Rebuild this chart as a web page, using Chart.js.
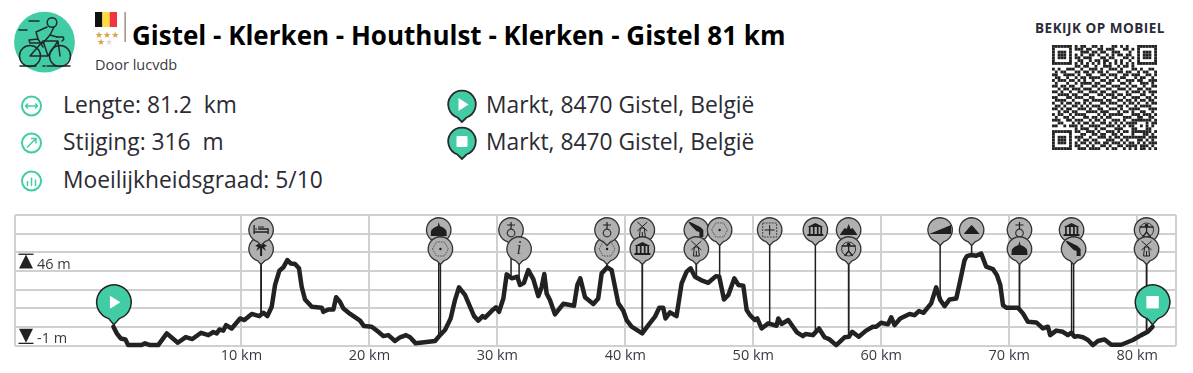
<!DOCTYPE html>
<html><head><meta charset="utf-8">
<script src="https://cdn.jsdelivr.net/npm/chart.js@4/dist/chart.umd.min.js"></script>
<style>
html,body{margin:0;padding:0;background:#fff;width:1193px;height:373px;overflow:hidden;font-family:"Open Sans",sans-serif;color:#2b2b33}
.a{position:absolute;white-space:pre;line-height:1}
canvas{position:absolute;left:0;top:0}
</style></head><body>
<svg class="a" style="left:0;top:0" width="1193" height="215" viewBox="0 0 1193 215">
 <circle cx="44.5" cy="42.2" r="30.4" fill="#41cca6"/>
 <g fill="none" stroke="#22292a" stroke-width="1.5" stroke-linecap="round" stroke-linejoin="round">
  <circle cx="30" cy="56" r="10.5"/><circle cx="60" cy="56" r="10.5"/>
  <path d="M30 56L43 41L58 41L60 56M43 41L48 56L30 56M48 56L58 41M57 37L63 37Q65 39 62 41"/>
  <circle cx="52" cy="22.5" r="4.8"/>
  <path d="M47 27L36 32L38 39L29 40L30 43L43 43L50 35L54 27M38 39L43 47M50 35L57 37"/>
  <path d="M29 21L39 21M19 30L27 30M20 66L36 66M43 66L45 66M47 66L70 66"/>
 </g>
 <rect x="95" y="12" width="7.4" height="15" fill="#111"/><rect x="102.4" y="12" width="7.3" height="15" fill="#fbdc3c"/><rect x="109.7" y="12" width="7.3" height="15" fill="#f5333f"/>
 <g font-size="9" font-family="DejaVu Sans"><text x="95" y="38" fill="#d9a441">★★★</text><text x="97" y="45" fill="#d9a441">★<tspan fill="#ddd">★</tspan></text></g>
 <rect x="124.6" y="12" width="1" height="30" fill="#6b5b3c"/>
 <g fill="none" stroke="#41cca6" stroke-width="2"><circle cx="31.5" cy="106" r="9.5"/><circle cx="31.5" cy="143" r="9.5"/><circle cx="31.5" cy="181" r="9.5"/>
  <path stroke-width="1.5" d="M25.5 106H37.5M28 103.5L25.5 106L28 108.500M35 103.500L37.500 106L35 108.500M27 147.500L36 138.500M31 138.500H36V143.500M27.500 186V181M31.500 186V177.500M35.500 186V179.500"/></g>
 <g stroke="#2a2a2a" stroke-width="1.8" fill="#41cca6">
  <path d="M462 122L457.500 117.500A13.800 13.800 0 1 1 466.500 117.500Z"/><path d="M462 159L457.500 154.500A13.800 13.800 0 1 1 466.500 154.500Z"/></g>
 <path fill="#fff" d="M458.500 98L468.500 104.500L458.500 111Z"/><rect x="456.500" y="136" width="11" height="11" rx="1" fill="#fff"/>
</svg>
<div class="a" style="left:132px;top:22px;font-size:26px;font-weight:700;color:#000" id="title">Gistel - Klerken - Houthulst - Klerken - Gistel 81 km</div>
<div class="a" style="left:95px;top:58px;font-size:14.5px;color:#3a3a44">Door lucvdb</div>
<div class="a" style="left:63px;top:94px;font-size:22.8px">Lengte: 81.2  km</div>
<div class="a" style="left:63px;top:131px;font-size:22.8px">Stijging: 316  m</div>
<div class="a" style="left:63px;top:169px;font-size:22.8px">Moeilijkheidsgraad: 5/10</div>
<div class="a" style="left:486px;top:94px;font-size:22.8px">Markt, 8470 Gistel, België</div>
<div class="a" style="left:486px;top:131px;font-size:22.8px">Markt, 8470 Gistel, België</div>
<div class="a" style="left:1035px;top:22px;font-size:13.5px;font-weight:700;letter-spacing:.5px;color:#2b2b3a">BEKIJK OP MOBIEL</div>
<canvas id="qr" width="105" height="105" style="left:1052px;top:45px"></canvas>
<canvas id="c" width="1193" height="373"></canvas>
<script>
const distancesKm = [0,.26,.57,.94,1.15,2.2,2.47,2.86,3.5,4.17,5.03,5.65,6.17,6.85,7.42,7.81,8.07,8.28,8.59,8.8,9.24,9.9,10.23,10.81,11.4,11.72,12.03,12.37,12.63,12.97,13.28,13.59,13.85,14.19,14.5,14.71,14.97,15.5,16.28,16.4,16.8,17.19,17.4,17.7,17.97,18.5,19.27,19.58,20.18,20.7,21.09,21.48,22,
22.4,22.86,23.18,23.62,25.13,25.52,25.91,26.35,26.69,27,27.47,28.18,28.51,28.85,29.04,29.68,29.89,30.13,30.47,30.73,31.12,31.56,31.77,32.08,32.42,32.81,33.2,33.46,33.67,33.85,34.11,34.5,35.15,35.99,36.25,36.48,36.85,37.5,37.88,38.15,38.59,38.93,39.45,39.84,40.1,40.49,41.32,41.8,42.32,42.65,42.96,43.14,43.49,44,44.4,44.79,45.1,45.44,45.91,46.48,47.08,47.34,47.71,48.05,48.52,48.83,49.22,49.48,49.74,50.13,50.31,50.65,51.17,51.82,51.95,52.21,52.73,53.1,
53.41,53.88,54.09,54.66,55.13,55.57,55.96,56.48,57.13,57.47,57.73,58.24,58.81,59.34,59.6,59.99,60.52,60.78,61.04,61.48,62.21,62.6,62.94,63.3,63.9,64.29,64.61,64.95,65.34,65.86,66.12,66.51,66.69,67.03,67.42,67.81,68.2,68.72,69.04,69.3,69.51,69.77,70.68,71.07,71.46,72.11,72.63,73.02,73.2,73.67,74.19,74.58,74.84,75.1,75.36,75.76,76.15,76.54,76.93,77.45,77.97,78.75,79.66,80.31,80.83,81.2];
const elevationsM = [8.7,5.3,2.7,2.2,-.7,-.7,.2,-.7,-.7,5.3,.5,3.4,2.4,5.6,4.4,6,5.3,7.3,6.7,9.5,7.8,12.9,12.1,15.2,14.1,15.8,14.1,18.9,30,37.3,39,42.7,41,40.7,38.5,29.1,22.6,18.9,18.4,16.3,17.5,17.5,23.7,21.4,18,15.2,11.8,9,8.7,6.1,3.9,4.4,1.4,
3.3,4.4,3.3,.2,1.4,4.4,7,12.9,22.3,28.8,24.9,14.1,11.8,14.1,13.3,17.5,18.6,16.3,23.1,35.4,33.4,34.2,30,31.1,37.6,33,24.3,28.8,35.6,25.7,22.3,15,20.4,19.4,30,33.4,23.7,20.3,23.1,35.9,39,37.6,20.6,16.9,12.1,8.7,5.3,9.5,13.8,18.4,18.4,12.9,16,14.1,30.8,36.8,38.5,34.2,32.5,31.1,34.5,34.2,22.6,24.9,33.4,30,29.6,17.2,14.6,12.1,12.9,7.8,10.4,9.2,12.9,10.1,12.1,8.7,
5.8,3.9,5,4.4,7.8,3.3,2.2,-.7,3.3,3.6,6.1,3.6,6.7,8.7,8.7,10.7,9.9,13.5,9.5,12.9,15.2,14.6,16.7,15.8,20.6,28.8,22.3,19.2,22.6,23.1,30.8,42.7,44.7,45.3,44.9,46,39.3,38.1,35,30,19.7,18.4,18.4,15.5,11.2,10.9,7.8,8.7,4.4,6.7,6.1,4.4,5.6,3.6,3.9,3.3,1.9,-.7,1.4,2.2,-.5,-.5,1.9,4.4,6.1,8.7];
const xTickKm = [10,20,30,40,50,60,70,80];
const yGridM = [-1,8.53,18.06,27.59,37.12,46.65,56.18,65.71];
const xBounds = [-7.73,83.03];
const minElevation = -1, maxElevation = 46;
const poiKm   = [11.54,11.54,25.42,25.55,31.07,31.7,38.57,38.57,41.33,41.33,45.55,45.55,47.37,51.28,54.85,57.45,57.45,64.6,67.06,70.8,70.8,74.87,75.03,80.73,80.73];
const poiTier = [1,0,0,1,0,1,1,0,0,1,0,1,0,0,0,0,1,0,0,0,1,0,1,0,1];
const poiIcon = ['palm','bed','dome','hex','ring','info','hex','ring','mill','museum','gun','mill','hex','grid','museum','mountain','man','ramp','hill','ring','dome','museum','gun','man','mill'];
const qrRows = [
"1111111010110011010001101010001111111",
"1000001011101100110111000110101000001",
"1011101000111011011001110001001011101",
"1011101010100110100101011011001011101",
"1011101011011100011011000110101011101",
"1000001001100101101100101001001000001",
"1111111010101010101010101010101111111",
"0000000011011001001110010110100000000",
"1010011100100111010011101000110100110",
"0101100011011010110100011011001011001",
"1100111101001100011011100110111001101",
"0110010010110111100100101100010110010",
"1011101101010010011011010011101100111",
"0100010010111101100110001101000111010",
"1101101100100011011001110010110010011",
"0010110111011100100110011101001101100",
"1101001001100111011001100010111010111",
"0011110110011000110111011011000110010",
"1100011011100110001001100100111001101",
"0111100100011011110110011011010110110",
"1001011011010100011011100101101001011",
"0110100110101011100100011010010111100",
"1101011001110100110011101001111000111",
"0010110110001111011100010110100110010",
"1011001011110000101011111000111011101",
"0100110100011011010110000111001100110",
"1110011011100101101001110100111111101",
"0011000101011010011010101011110001011",
"1100101110100111100111010101100101010",
"0000000010111001011000111000110001100",
"1111111011001110100111010110111111101",
"1000001000110011011001101000100011010",
"1011101011100100111010110111111110111",
"1011101001011011000111001010001101010",
"1011101010110101101101110101101010111",
"1000001011001010011010011011110111010",
"1111111001110111100101100101010110101"];

// QR ornament
(function(){const g=document.getElementById('qr').getContext('2d');const s=105/37;g.fillStyle='#222';
 qrRows.forEach((r,y)=>[...r].forEach((v,x)=>{if(v==='1')g.fillRect(x*s,y*s,s,s);}));})();

const INK='#1f1f1f', PIN='#b0b0b0', GREEN='#41cca6';
function L(g,d,w){g.lineWidth=w||1;g.strokeStyle=INK;g.beginPath();d.forEach(p=>{g.moveTo(p[0],p[1]);for(let i=2;i<p.length;i+=2)g.lineTo(p[i],p[i+1]);});g.stroke();}
function F(g,p){g.fillStyle=INK;g.beginPath();g.moveTo(p[0],p[1]);for(let i=2;i<p.length;i+=2)g.lineTo(p[i],p[i+1]);g.closePath();g.fill();}
const icons={
 bed(g){L(g,[[-7,-5,-7,4],[-7,2,7,2,7,4],[-3,-1,7,-1,7,2]],1.3);L(g,[[-6,-1,-4,-1],[-3,-3,3,-3]],1);},
 palm(g){F(g,[-6,-3,0,-7,6,-3,3,-2,5,2,1,-1,1,7,-1,7,-1,-1,-5,2,-3,-2]);},
 dome(g){g.fillStyle=INK;g.beginPath();g.moveTo(-8,6);g.lineTo(8,6);g.quadraticCurveTo(9,-2,1,-4);g.lineTo(0,-8);g.lineTo(-1,-4);g.quadraticCurveTo(-9,-2,-8,6);g.fill();},
 hex(g){g.strokeStyle='#555';g.lineWidth=1;g.setLineDash([1.5,1]);g.beginPath();[[-8,0],[-4,-7],[4,-7],[8,0],[4,7],[-4,7]].forEach((p,i)=>i?g.lineTo(p[0],p[1]):g.moveTo(p[0],p[1]));g.closePath();g.stroke();g.setLineDash([]);g.fillStyle=INK;g.beginPath();g.arc(0,0,1.2,0,7);g.fill();},
 ring(g){g.strokeStyle='#333';g.lineWidth=1.2;g.beginPath();g.arc(0,3,3.8,0,7);g.stroke();L(g,[[0,-8,0,-1],[-4,-5,4,-5]],1.2);},
 info(g){g.fillStyle='#333';g.font='italic 400 18px "Liberation Serif"';g.textAlign='center';g.textBaseline='middle';g.fillText('i',0,0);},
 mill(g){L(g,[[-5,-8,5,1],[5,-8,-5,1]],1);L(g,[[-3,7,-2,-2,2,-2,3,7,-3,7],[0,2,0,7]],1);},
 museum(g){F(g,[-8,-3,0,-7,8,-3]);F(g,[-8,4,8,4,8,6,-8,6]);g.fillStyle=INK;[-6.5,-2.5,1.5,5].forEach(x=>g.fillRect(x,-3,1.7,7));},
 gun(g){F(g,[-8,-8,-6,-8,4,-3,7,0,7,7,3,7,3,2,0,1,-6,-5]);},
 mountain(g){F(g,[-9,5,-4,-2,-2,-1,0,-6,2,-1,4,-2,9,5]);},
 hill(g){F(g,[-8,4,-2,-3,0,-5,2,-3,8,4]);},
 ramp(g){F(g,[-11,4,11,-5,11,4]);},
 grid(g){g.strokeStyle='#444';g.lineWidth=1;g.setLineDash([2,1]);g.strokeRect(-7,-7,14,14);g.setLineDash([]);L(g,[[0,-5,0,5],[-5,0,5,0]],1);},
 man(g){g.strokeStyle='#333';g.lineWidth=1;g.beginPath();g.arc(0,0,7,0,7);g.stroke();g.fillStyle=INK;g.beginPath();g.arc(0,-4.5,1.8,0,7);g.fill();L(g,[[0,-3,0,2],[-7,-3,7,-3],[0,2,-4,7],[0,2,4,7]],1.3);}
};
function elevationAt(km){for(let i=1;i<distancesKm.length;i++){if(distancesKm[i]>=km){const t=(km-distancesKm[i-1])/(distancesKm[i]-distancesKm[i-1]);return elevationsM[i-1]+t*(elevationsM[i]-elevationsM[i-1]);}}return elevationsM[elevationsM.length-1];}
function pinPath(g,cx,cy,r,tip){g.beginPath();g.moveTo(cx,cy+tip);g.lineTo(cx-r*.3,cy+r*.95);g.arc(cx,cy,r,Math.PI/2+.32,Math.PI/2-.32);g.closePath();}
const overlay={id:'overlay',
 beforeDatasetsDraw(ch){const g=ch.ctx,x=ch.scales.x,y=ch.scales.y,top=ch.chartArea.top;g.save();
  g.strokeStyle=INK;g.lineWidth=1.5;
  poiKm.forEach((km,i)=>{const px=x.getPixelForValue(km);g.beginPath();g.moveTo(px,top+15+poiTier[i]*19);g.lineTo(px,y.getPixelForValue(elevationAt(km)));g.stroke();});
  g.restore();},
 afterDatasetsDraw(ch){const g=ch.ctx,x=ch.scales.x,y=ch.scales.y,top=ch.chartArea.top,left=ch.chartArea.left;g.save();
  poiKm.forEach((km,i)=>{const cx=x.getPixelForValue(km),cy=top+15+poiTier[i]*19;
   pinPath(g,cx,cy,12.2,15.5);g.fillStyle=PIN;g.fill();g.strokeStyle='#333';g.lineWidth=1.3;g.stroke();
   g.save();g.translate(cx,cy);icons[poiIcon[i]](g);g.restore();});
  [[0,'start'],[81.2,'end']].forEach(([km,kind])=>{const cx=x.getPixelForValue(km)+(kind==='start'?.5:0),tipY=y.getPixelForValue(elevationAt(km))-2,cy=tipY-22.5;
   pinPath(g,cx,cy,17.3,22.5);g.fillStyle=GREEN;g.fill();g.strokeStyle='#222';g.lineWidth=1.5;g.stroke();g.fillStyle='#fff';
   if(kind==='start'){g.beginPath();g.moveTo(cx-4,cy-6.5);g.lineTo(cx+6.5,cy);g.lineTo(cx-4,cy+6.5);g.closePath();g.fill();}else{g.fillRect(cx-6.2,cy-6.2,12.4,12.4);}});
  const ix=left+11.5,y1=y.getPixelForValue(maxElevation),y0=y.getPixelForValue(minElevation);
  g.fillStyle='#222';g.fillRect(ix-7.5,y1,15,1.3);g.beginPath();g.moveTo(ix,y1+1);g.lineTo(ix+7,y1+15);g.lineTo(ix-7,y1+15);g.closePath();g.fill();
  g.fillRect(ix-7.5,y0-3,15,1.3);g.beginPath();g.moveTo(ix,y0-3);g.lineTo(ix+7,y0-17);g.lineTo(ix-7,y0-17);g.closePath();g.fill();
  g.font='14.5px "Open Sans"';g.fillStyle='#3a3a44';g.textAlign='left';g.textBaseline='middle';
  g.fillText(maxElevation+' m',left+22.5,y1+11);g.fillText(minElevation+' m',left+22.5,y0-6.5);
  g.restore();}
};
new Chart(document.getElementById('c'),{type:'line',
 data:{datasets:[{label:'Hoogte',data:distancesKm.map((km,i)=>({x:km,y:elevationsM[i]})),borderColor:'#222',borderWidth:4.5,pointRadius:0,tension:0,borderJoinStyle:'round',borderCapStyle:'round',clip:false}]},
 options:{responsive:false,animation:false,devicePixelRatio:1,events:[],
  layout:{padding:{left:14.5,right:17,top:215,bottom:0}},
  plugins:{legend:{display:false},tooltip:{enabled:false},title:{display:false}},
  scales:{
   x:{type:'linear',min:xBounds[0],max:xBounds[1],
    afterBuildTicks(a){a.ticks=[xBounds[0],...xTickKm,xBounds[1]].map(v=>({value:v}));},
    afterFit(a){a.height=27.3;},
    grid:{color:'#d0d0d0',lineWidth:2,drawTicks:false},border:{display:false},
    ticks:{autoSkip:false,maxRotation:0,padding:1,color:'#3a3a44',font:{family:'"Open Sans"',size:14.5},callback:v=>xTickKm.includes(v)?v+' km':''}},
   y:{type:'linear',min:yGridM[0],max:yGridM[yGridM.length-1],
    afterBuildTicks(a){a.ticks=yGridM.map(v=>({value:v}));},
    afterFit(a){a.width=0;},
    grid:{color:'#d0d0d0',lineWidth:2,drawTicks:false},border:{display:false},
    ticks:{display:false}}
  }},
 plugins:[overlay]});
</script>
</body></html>
